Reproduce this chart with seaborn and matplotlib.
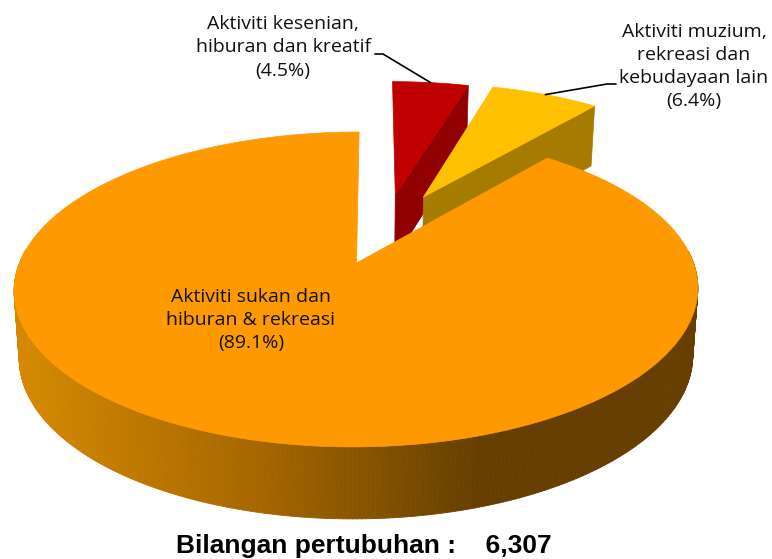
import matplotlib
import matplotlib.pyplot as plt
import numpy as np
import seaborn as sns
from matplotlib.collections import PolyCollection
from matplotlib.patches import Polygon

matplotlib.use("Agg")

# data, clockwise from 12 o'clock
CATEGORIES = ["Aktiviti kesenian,\nhiburan dan kreatif", "Aktiviti muzium,\nrekreasi dan\nkebudayaan lain", "Aktiviti sukan dan\nhiburan & rekreasi"]
SHARES = [4.5, 6.4, 89.1]
TOTAL_LABEL = "Bilangan pertubuhan :    6,307"

TOP_COLORS = ["#C00000", "#FFC000", "#FF9900"]
CUT_COLORS = ["#900000", "#A67C00", "#FF9900"]
SIDE_STOPS = ["#D48900", "#A86800", "#663F00"]

# explosion of each slice on the disc plane (x, depth)
EXPLODE = [(0.12, 0.48), (0.21, 0.465), (0.0, 0.0)]

# projection of the tilted disc into pixels
CX, CY = 356.5, 263
SX, SY = 337, 153
PERSP = 0.168
SHRINK = 0.985
SHEAR = 0.02


def project(x, y):
    w = 1 + PERSP * y
    py = SY * y / w
    return CX + SX * x / w + SHEAR * py, CY - py


def project_low(x, y):
    px, py = project(x, y)
    return CX + (px - CX) * SHRINK, py + 66.6 - 5.4 * y


def arc(theta, offset):
    return offset[0] + np.sin(theta), offset[1] + np.cos(theta)


def main():
    sns.set_theme(style="white")
    plt.rcParams["font.family"] = ["Open Sans", "DejaVu Sans"]

    fig = plt.figure(figsize=(7.72, 5.59), dpi=100)
    ax = fig.add_axes([0, 0, 1, 1])
    ax.set_xlim(0, 772)
    ax.set_ylim(559, 0)
    ax.axis("off")

    edges = np.radians(np.cumsum([0] + SHARES) * 3.6)
    side_colors = sns.blend_palette(SIDE_STOPS, 256)

    anchors = []
    for i in range(len(SHARES)):
        start, end = edges[i], edges[i + 1]
        offset = EXPLODE[i]
        thetas = np.linspace(start, end, 500)
        ax_, ay_ = arc(thetas, offset)
        top_x, top_y = project(ax_, ay_)
        low_x, low_y = project_low(ax_, ay_)
        apex = project(*offset)
        apex_low = project_low(*offset)

        if i < 2:
            # flat cut face seen from the right
            cut = [apex, (top_x[-1], top_y[-1]), (low_x[-1], low_y[-1]), apex_low]
            ax.add_patch(Polygon(cut, closed=True, fc=CUT_COLORS[i], ec=CUT_COLORS[i], lw=0.5, zorder=i * 2 + 1))
        else:
            # outer wall, front part only
            quads = []
            colors = []
            for j in range(len(thetas) - 1):
                if not np.radians(85) < thetas[j] < np.radians(275):
                    continue
                quads.append([(top_x[j], top_y[j]), (top_x[j + 1], top_y[j + 1]), (low_x[j + 1], low_y[j + 1]), (low_x[j], low_y[j])])
                pos = np.interp(top_x[j], [20, 250, 480], [0, 127, 255])
                colors.append(side_colors[int(pos)])
            ax.add_collection(PolyCollection(quads, facecolors=colors, edgecolors=colors, linewidths=0.6, zorder=i * 2 + 1))

        face = [apex] + list(zip(top_x, top_y))
        ax.add_patch(Polygon(face, closed=True, fc=TOP_COLORS[i], ec=TOP_COLORS[i], lw=0.5, zorder=i * 2 + 2))
        mid = (start + end) / 2
        anchors.append(project(*arc(mid, offset)))

    # leader lines
    ax.plot([375, 383, anchors[0][0]], [54, 54, anchors[0][1]], color="black", lw=1.2, zorder=10)
    ax.plot([anchors[1][0], 607, 616], [anchors[1][1], 84, 84], color="black", lw=1.2, zorder=10)

    label_kw = dict(ha="center", va="center", fontsize=14, color="#111111", linespacing=1.36, zorder=11)
    ax.text(283, 47.5, f"{CATEGORIES[0]}\n({SHARES[0]}%)", **label_kw)
    ax.text(694, 66.5, f"{CATEGORIES[1]}\n({SHARES[1]}%)", **label_kw)
    ax.text(251, 320, f"{CATEGORIES[2]}\n({SHARES[2]}%)", **label_kw)

    ax.text(363.5, 553, TOTAL_LABEL, ha="center", va="baseline", fontsize=19, fontweight="bold", family="Liberation Sans", color="black")

    fig.savefig("out.png", dpi=100)


if __name__ == "__main__":
    main()
